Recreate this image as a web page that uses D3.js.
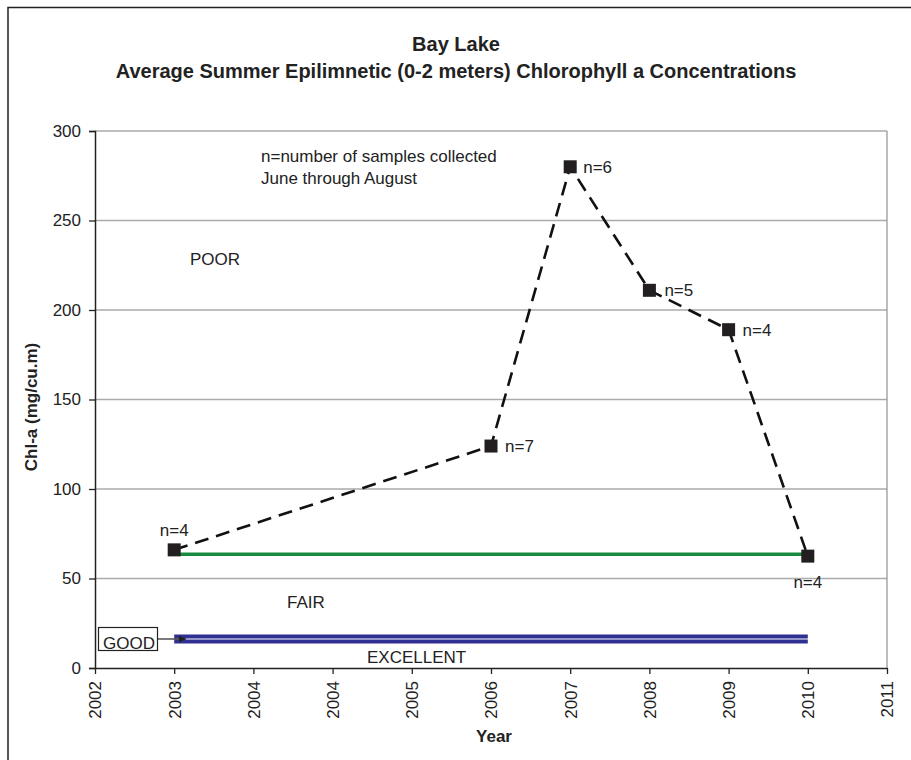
<!DOCTYPE html>
<html>
<head>
<meta charset="utf-8">
<script src="https://cdn.jsdelivr.net/npm/d3@7"></script>
<style>
  body { margin: 0; background: #fff; overflow: hidden; }
  text { font-family: Arial, "Liberation Sans", sans-serif; fill: #222; }
</style>
</head>
<body>
<script>

// Data
var tickLabels = ["2002", "2003", "2004", "2004", "2005", "2006", "2007", "2008", "2009", "2010", "2011"];
var years = ["2003", "2006", "2007", "2008", "2009", "2010"];
var chla = [66, 124, 280, 211, 189, 62.5];
var nSamples = [4, 7, 6, 5, 4, 4];
var yTicks = [0, 50, 100, 150, 200, 250, 300];

// Reference lines (start year, end year, value)
var fairPoorLine = { from: "2003", to: "2010", value: 63.5 };
var goodLines = [
    { from: "2003", to: "2010", value: 17.6 },
    { from: "2003", to: "2010", value: 14.8 }
];

function drawChart(){

    const width = 911;
    const height = 760;
    const marginTop = 131;
    const marginRight = 24;
    const marginBottom = 92;
    const marginLeft = 95;
    const fs = 17;

    const svg = d3.create("svg")
        .attr("width", width)
        .attr("height", height)
        .attr("viewBox", [0, 0, width, height]);

    // outer frame (only left and top edges fall inside the picture)
    svg.append("path")
        .attr("d", `M8,${height}V7.5H${width}`)
        .attr("fill", "none")
        .attr("stroke", "#222")
        .attr("stroke-width", 1.5);

    const x = d3.scaleLinear([0, tickLabels.length - 1], [marginLeft, width - marginRight]);
    const y = d3.scaleLinear([0, 300], [height - marginBottom, marginTop]);
    const xPos = yr => x(tickLabels.indexOf(yr));

    // grid lines
    svg.append("g")
        .selectAll("line")
        .data(yTicks.filter(d => d > 0))
        .join("line")
        .attr("x1", marginLeft).attr("x2", width - marginRight)
        .attr("y1", d => y(d)).attr("y2", d => y(d))
        .attr("stroke", "#aaa")
        .attr("stroke-width", 1.3);

    // right border of plot area
    svg.append("line")
        .attr("x1", width - marginRight).attr("x2", width - marginRight)
        .attr("y1", marginTop).attr("y2", height - marginBottom)
        .attr("stroke", "#999")
        .attr("stroke-width", 1.3);

    // y axis
    svg.append("g")
        .attr("transform", `translate(${marginLeft},0)`)
        .call(d3.axisLeft(y).tickValues(yTicks).tickSize(6).tickPadding(8))
        .call(g => g.select(".domain").attr("stroke", "#222").attr("stroke-width", 1.5))
        .call(g => g.selectAll(".tick line").attr("stroke", "#222").attr("stroke-width", 1.3))
        .call(g => g.selectAll(".tick text")
            .attr("font-size", fs)
            .attr("font-family", "Arial, 'Liberation Sans', sans-serif")
            .attr("fill", "#222"));

    // x axis
    svg.append("g")
        .attr("transform", `translate(0,${height - marginBottom})`)
        .call(d3.axisBottom(x).tickValues(d3.range(tickLabels.length))
            .tickFormat(i => tickLabels[i]).tickSize(6).tickSizeOuter(0))
        .call(g => g.select(".domain").attr("stroke", "#222").attr("stroke-width", 1.5))
        .call(g => g.selectAll(".tick line").attr("stroke", "#222").attr("stroke-width", 1.3))
        .call(g => g.selectAll(".tick text")
            .attr("font-size", fs)
            .attr("font-family", "Arial, 'Liberation Sans', sans-serif")
            .attr("fill", "#222")
            .attr("transform", "rotate(-90)")
            .attr("text-anchor", "end")
            .attr("dy", "0.35em")
            .attr("x", -13)
            .attr("y", 0));

    // blue "good" band lines
    goodLines.forEach(function(l){
        svg.append("line")
            .attr("x1", xPos(l.from)).attr("x2", xPos(l.to))
            .attr("y1", y(l.value)).attr("y2", y(l.value))
            .attr("stroke", "#2e3192")
            .attr("stroke-width", 4);
    });

    // green fair/poor line
    svg.append("line")
        .attr("x1", xPos(fairPoorLine.from)).attr("x2", xPos(fairPoorLine.to))
        .attr("y1", y(fairPoorLine.value)).attr("y2", y(fairPoorLine.value))
        .attr("stroke", "#178a40")
        .attr("stroke-width", 3.5);

    // dashed data line
    const pts = years.map((yr, i) => ({ year: yr, val: chla[i], n: nSamples[i] }));
    const line = d3.line()
        .x(d => xPos(d.year))
        .y(d => y(d.val));

    svg.append("path")
        .attr("fill", "none")
        .attr("stroke", "#111")
        .attr("stroke-width", 2.6)
        .attr("stroke-dasharray", "14,8")
        .attr("d", line(pts));

    svg.append("g")
        .selectAll("rect")
        .data(pts)
        .join("rect")
        .attr("x", d => xPos(d.year) - 6.5)
        .attr("y", d => y(d.val) - 6.5)
        .attr("width", 13).attr("height", 13)
        .attr("fill", "#231f20");

    // n= labels (offsets per point, as in the original)
    var nOffsets = [[0, -14, "middle"], [14, 6, "start"], [13, 6, "start"], [15, 6, "start"], [14, 6, "start"], [0, 32, "middle"]];
    svg.append("g")
        .selectAll("text")
        .data(pts)
        .join("text")
        .attr("x", (d, i) => xPos(d.year) + nOffsets[i][0])
        .attr("y", (d, i) => y(d.val) + nOffsets[i][1])
        .attr("text-anchor", (d, i) => nOffsets[i][2])
        .attr("font-size", fs)
        .text(d => "n=" + d.n);

    // annotations
    svg.append("text").attr("x", 261).attr("y", 162).attr("font-size", fs).text("n=number of samples collected");
    svg.append("text").attr("x", 261).attr("y", 184).attr("font-size", fs).text("June through August");
    svg.append("text").attr("x", 190).attr("y", 265).attr("font-size", fs).text("POOR");
    svg.append("text").attr("x", 287).attr("y", 608).attr("font-size", fs).text("FAIR");
    svg.append("text").attr("x", 367).attr("y", 663).attr("font-size", fs).text("EXCELLENT");

    // GOOD box with arrow
    svg.append("rect")
        .attr("x", 98.5).attr("y", 627.5)
        .attr("width", 59).attr("height", 23)
        .attr("fill", "#fff")
        .attr("stroke", "#222")
        .attr("stroke-width", 1.2);
    svg.append("text").attr("x", 129).attr("y", 649).attr("text-anchor", "middle").attr("font-size", fs).text("GOOD");
    svg.append("defs").append("marker")
        .attr("id", "arr")
        .attr("viewBox", "0 0 10 10")
        .attr("refX", 10).attr("refY", 5)
        .attr("markerWidth", 6).attr("markerHeight", 6)
        .attr("orient", "auto")
        .append("path")
        .attr("d", "M0,0L10,5L0,10z")
        .attr("fill", "#222");
    svg.append("line")
        .attr("x1", 158).attr("x2", 186)
        .attr("y1", 639).attr("y2", 639)
        .attr("stroke", "#222")
        .attr("stroke-width", 1.2)
        .attr("marker-end", "url(#arr)");

    // titles
    svg.append("text").attr("x", 456).attr("y", 51).attr("text-anchor", "middle")
        .attr("font-size", 20).attr("font-weight", "bold").text("Bay Lake");
    svg.append("text").attr("x", 456).attr("y", 78).attr("text-anchor", "middle")
        .attr("font-size", 20).attr("font-weight", "bold")
        .text("Average Summer Epilimnetic (0-2 meters) Chlorophyll a Concentrations");

    // axis titles
    svg.append("text").attr("x", 494).attr("y", 742).attr("text-anchor", "middle")
        .attr("font-size", fs).attr("font-weight", "bold").text("Year");
    svg.append("text")
        .attr("transform", `translate(37,407) rotate(-90)`)
        .attr("text-anchor", "middle")
        .attr("font-size", fs).attr("font-weight", "bold")
        .text("Chl-a (mg/cu.m)");

    document.body.appendChild(svg.node());
}

drawChart();
</script>
</body>
</html>
